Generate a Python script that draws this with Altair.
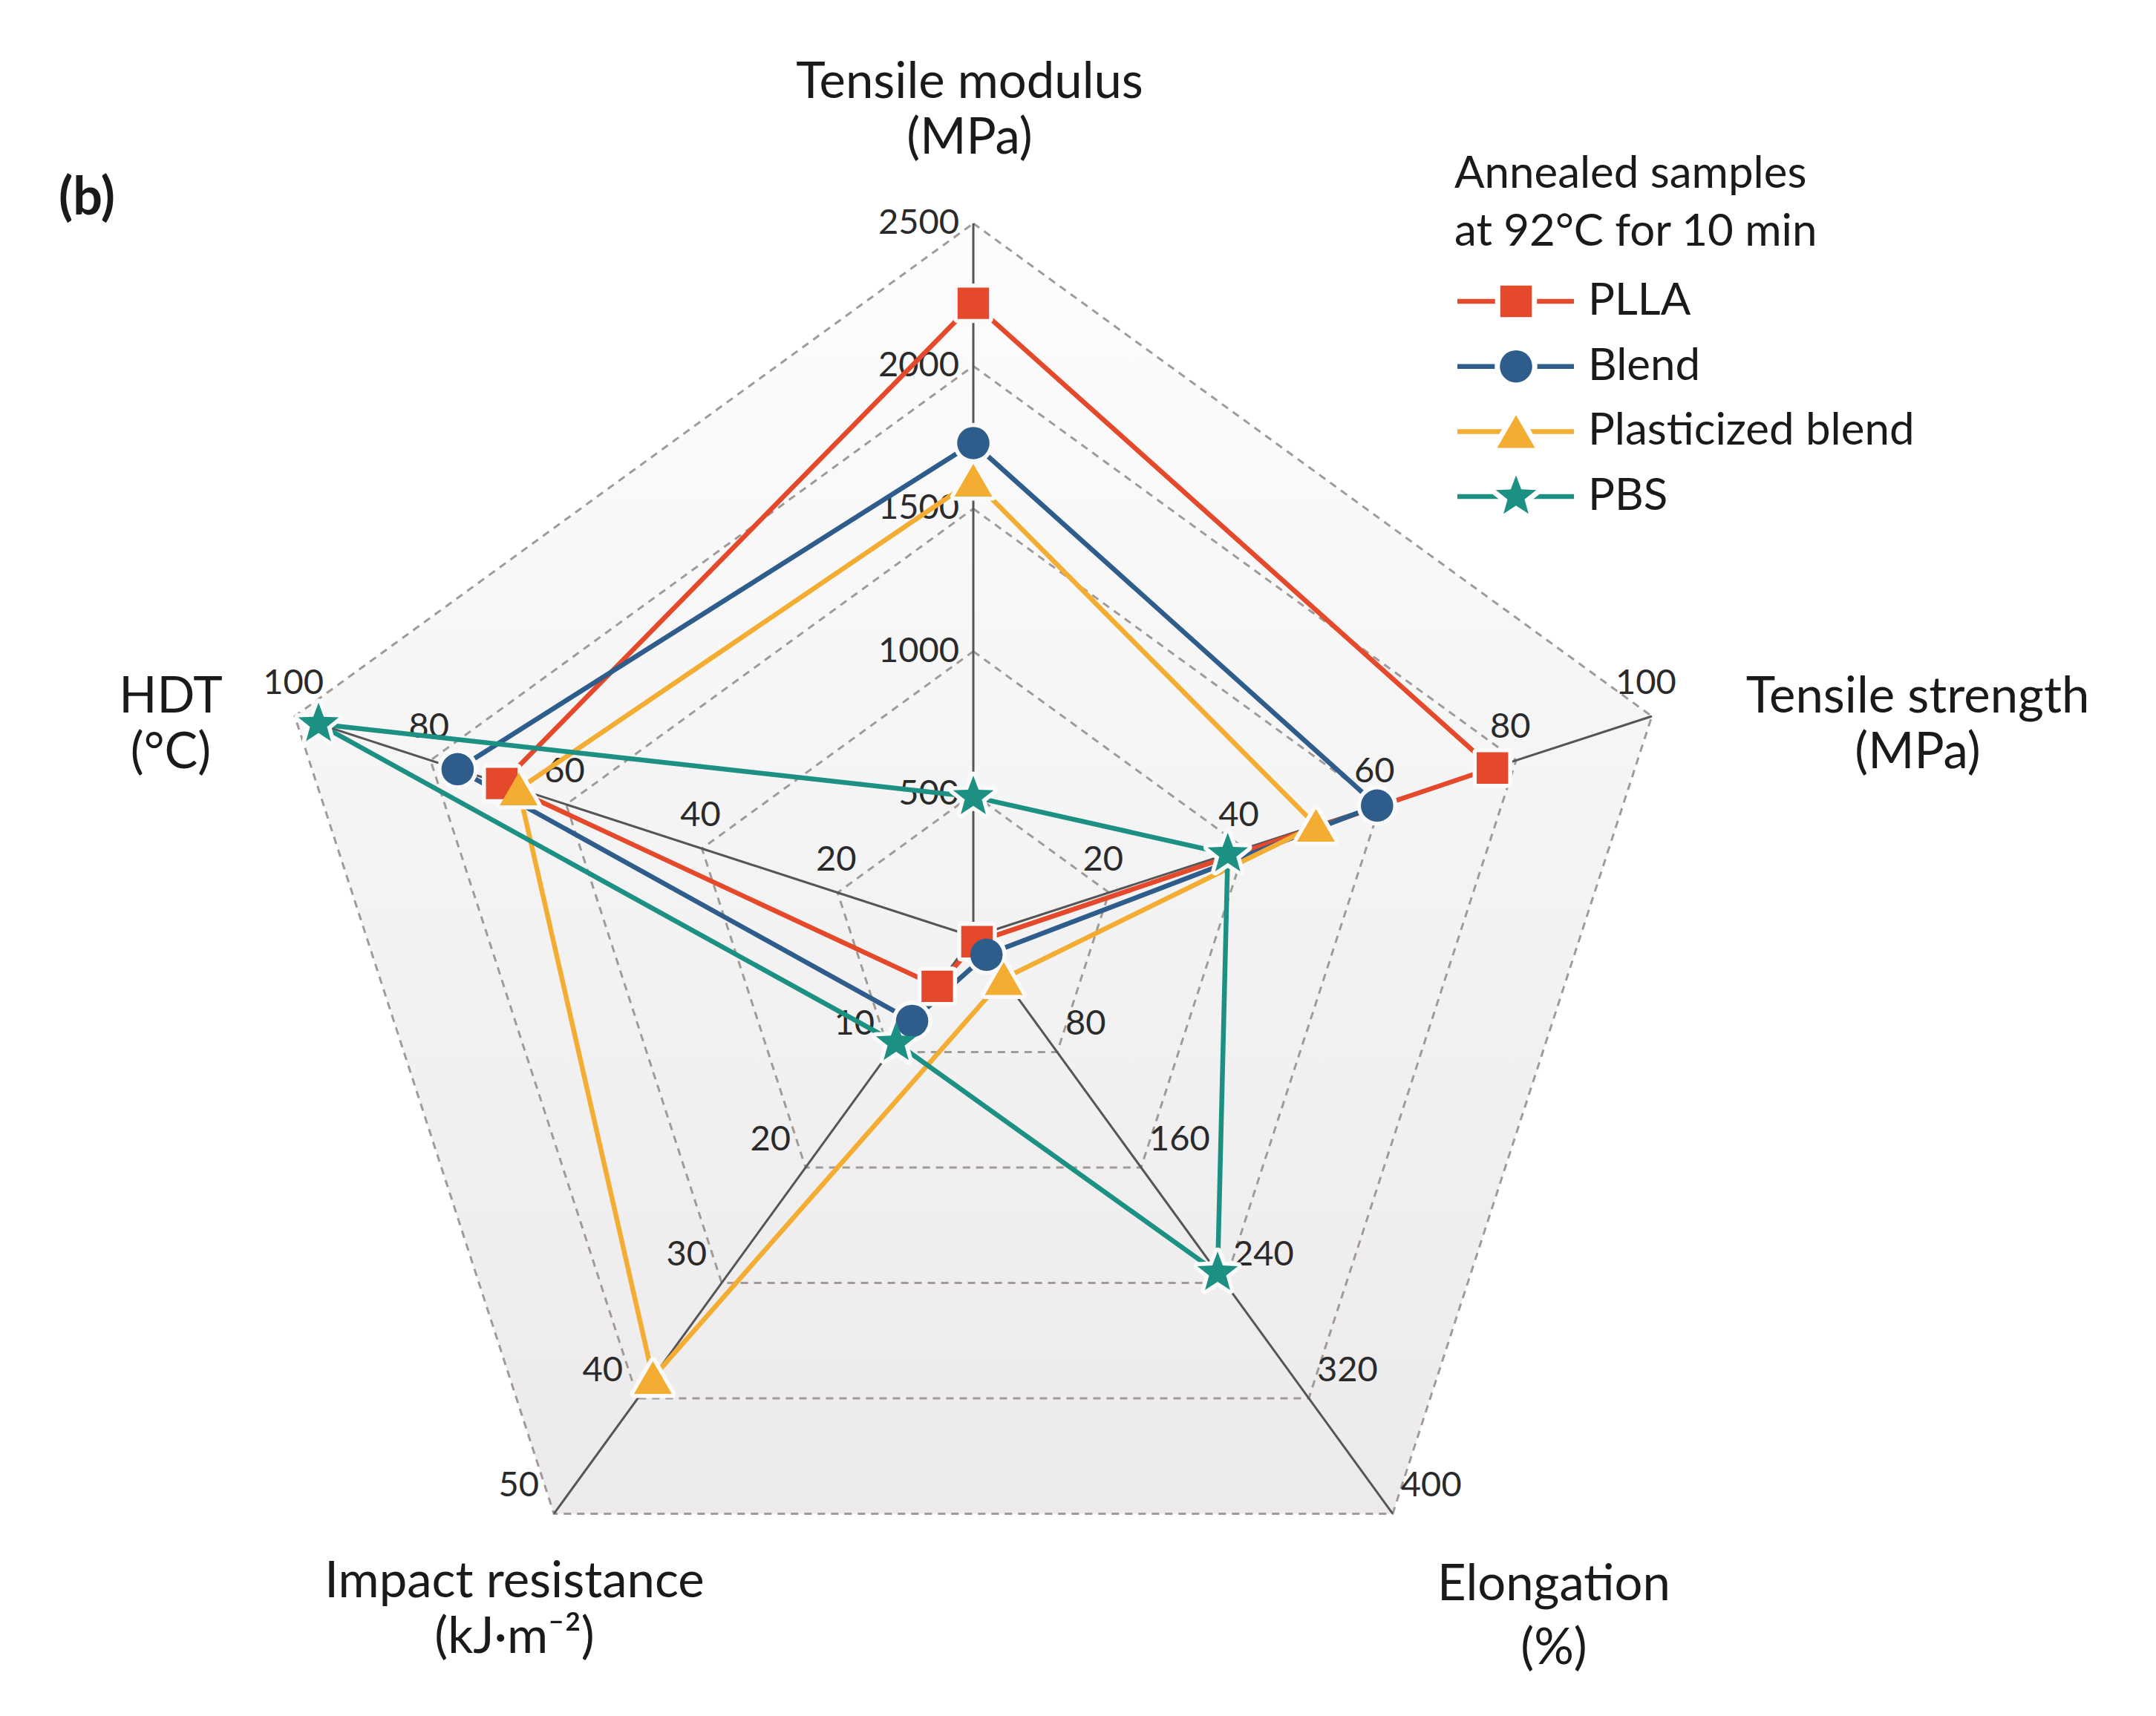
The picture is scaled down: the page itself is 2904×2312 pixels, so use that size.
import math
import pandas as pd
import altair as alt

# ---------------- data ----------------
AXES = ["Tensile modulus", "Tensile strength", "Elongation", "Impact resistance", "HDT"]
AXIS_UNITS = ["(MPa)", "(MPa)", "(%)", "(kJ·m⁻²)", "(°C)"]
AXIS_MAX = [2500, 100, 400, 50, 100]
TICK_VALUES = [
    [500, 1000, 1500, 2000, 2500],
    [20, 40, 60, 80, 100],
    [80, 160, 240, 320, 400],
    [10, 20, 30, 40, 50],
    [20, 40, 60, 80, 100],
]
SERIES = ["PLLA", "Blend", "Plasticized blend", "PBS"]
PLLA = [2220, 76.5, 3.5, 4.3, 69.5]
BLEND = [1730, 59.5, 12.5, 7.3, 76]
PLASTICIZED = [1600, 50.5, 29, 38.2, 67]
PBS = [490, 37.5, 233, 9.2, 96.5]
SERIES_VALUES = [PLLA, BLEND, PLASTICIZED, PBS]
LEGEND_TITLE = ["Annealed samples", "at 92°C for 10 min"]
PANEL_LABEL = "(b)"

# ---------------- style / layout ----------------
COLORS = ["#E5492B", "#2E5D8C", "#F4AD33", "#1C9082"]
STAR = "M" + "L".join(
    f"{(1.0 if j % 2 == 0 else 0.42) * math.cos(-math.pi / 2 + j * math.pi / 5):.4f},"
    f"{(1.0 if j % 2 == 0 else 0.42) * math.sin(-math.pi / 2 + j * math.pi / 5):.4f}"
    for j in range(10)
) + "Z"
SHAPES = ["square", "circle", "triangle-up", STAR]
SIZES = [1800, 1900, 2600, 3300]
FONT = "Lato"
LINE_W = 6.5

W, H = 2880, 2290
CX, CY, R = 1311, 1262, 961     # page pixel centre / radius of the radar
MARGIN = 8
XMIN = -(CX - MARGIN) / R
XMAX = XMIN + W / R
YMAX = (CY - MARGIN) / R
YMIN = YMAX - H / R


def px(X, Y):
    return (X - CX) / R, (CY - Y) / R


N = len(AXES)
ANG = [math.pi / 2 - 2 * math.pi * k / N for k in range(N)]


def polar(k, frac):
    return frac * math.cos(ANG[k]), frac * math.sin(ANG[k])


xs = alt.Scale(domain=[XMIN, XMAX], nice=False, zero=False)
ys = alt.Scale(domain=[YMIN, YMAX], nice=False, zero=False)
X = alt.X("x:Q", scale=xs, axis=None)
Y = alt.Y("y:Q", scale=ys, axis=None)

# background pentagon
bg_rows = []
for i in range(N + 1):
    x, y = polar(i % N, 1.0)
    bg_rows.append({"x": x, "y": y, "o": i})
bg = alt.Chart(pd.DataFrame(bg_rows)).mark_line(
    fill=alt.LinearGradient(
        gradient="linear",
        stops=[alt.GradientStop(color="#FDFDFD", offset=0),
               alt.GradientStop(color="#ECEAEA", offset=1)],
        x1=0, x2=0, y1=0, y2=1),
    strokeOpacity=0,
).encode(x=X, y=Y, order="o:Q")

# grid rings
grid_rows = []
for lv in range(1, 6):
    for i in range(N + 1):
        x, y = polar(i % N, lv / 5)
        grid_rows.append({"x": x, "y": y, "o": i, "lv": lv})
grid = alt.Chart(pd.DataFrame(grid_rows)).mark_line(
    color="#A19B98", strokeWidth=3, strokeDash=[10, 8]
).encode(x=X, y=Y, order="o:Q", detail="lv:N")

# spokes
spoke_rows = []
for k in range(N):
    x2, y2 = polar(k, 1.0)
    spoke_rows.append({"x": 0.0, "y": 0.0, "x2": x2, "y2": y2})
spokes = alt.Chart(pd.DataFrame(spoke_rows)).mark_rule(
    color="#555555", strokeWidth=3
).encode(x=X, y=Y, x2="x2:Q", y2="y2:Q")

# tick labels
LABEL_STYLE = [
    dict(align="right", dx=-19, dy=0, baseline="middle"),
    dict(align="center", dx=-8, dy=-44, baseline="middle"),
    dict(align="left", dx=11, dy=-37, baseline="middle"),
    dict(align="right", dx=-20, dy=-37, baseline="middle"),
    dict(align="center", dx=-2, dy=-44, baseline="middle"),
]
tick_layers = []
for k in range(N):
    rows = []
    for v in TICK_VALUES[k]:
        x, y = polar(k, v / AXIS_MAX[k])
        rows.append({"x": x, "y": y, "t": str(v)})
    tick_layers.append(
        alt.Chart(pd.DataFrame(rows)).mark_text(
            font=FONT, fontSize=47, color="#2A2A2A", **LABEL_STYLE[k]
        ).encode(x=X, y=Y, text="t:N")
    )

# series lines and markers
line_rows, pt_rows = [], []
for s, vals in zip(SERIES, SERIES_VALUES):
    for i in range(N + 1):
        k = i % N
        x, y = polar(k, vals[k] / AXIS_MAX[k])
        line_rows.append({"x": x, "y": y, "o": i, "series": s})
        if i < N:
            pt_rows.append({"x": x, "y": y, "series": s})
line_df = pd.DataFrame(line_rows)
pt_df = pd.DataFrame(pt_rows)
color = alt.Color("series:N", scale=alt.Scale(domain=SERIES, range=COLORS), legend=None)
lines = alt.Chart(line_df).mark_line(strokeWidth=LINE_W).encode(
    x=X, y=Y, order="o:Q", color=color)

halo_layers, marker_layers = [], []
for i, s in enumerate(SERIES):
    d = pt_df[pt_df.series == s]
    halo_layers.append(alt.Chart(d).mark_point(
        shape=SHAPES[i], size=SIZES[i], filled=True, fill="#FAFAFA", stroke="#FAFAFA",
        strokeWidth=11, strokeJoin="round", opacity=1).encode(x=X, y=Y))
    marker_layers.append(alt.Chart(d).mark_point(
        shape=SHAPES[i], size=SIZES[i], filled=True, color=COLORS[i],
        opacity=1).encode(x=X, y=Y))

# axis titles
TITLE_POS = [  # page pixels of the two lines' centres
    ((1306, 112), (1306, 187)),
    ((2583, 940), (2583, 1015)),
    ((2093, 2136), (2093, 2222)),
    ((693, 2132), (693, 2207)),
    ((230, 940), (230, 1015)),
]
title_rows = []
for k in range(N):
    for txt, (PX, PY) in zip([AXES[k], AXIS_UNITS[k]], TITLE_POS[k]):
        x, y = px(PX, PY)
        title_rows.append({"x": x, "y": y, "t": txt})
titles = alt.Chart(pd.DataFrame(title_rows)).mark_text(
    font=FONT, fontSize=67, color="#1A1A1A", align="center", baseline="middle"
).encode(x=X, y=Y, text="t:N")

bx, by = px(117, 268)
panel = alt.Chart(pd.DataFrame([{"x": bx, "y": by, "t": PANEL_LABEL}])).mark_text(
    font=FONT, fontSize=70, fontWeight="bold", color="#1A1A1A", align="center",
    baseline="middle").encode(x=X, y=Y, text="t:N")

# legend
lt_rows = []
for j, txt in enumerate(LEGEND_TITLE):
    x, y = px(1959, 235 + 78 * j)
    lt_rows.append({"x": x, "y": y, "t": txt})
leg_title = alt.Chart(pd.DataFrame(lt_rows)).mark_text(
    font=FONT, fontSize=60, color="#1A1A1A", align="left", baseline="middle"
).encode(x=X, y=Y, text="t:N")

leg_rows = []
for i, s in enumerate(SERIES):
    yy = 406 + 87.7 * i
    x0, y0 = px(1963, yy)
    x1, _ = px(2120, yy)
    xm, _ = px(2042, yy)
    xt, _ = px(2139, yy)
    leg_rows.append({"series": s, "x0": x0, "x1": x1, "xm": xm, "xt": xt, "y": y0})
leg_df = pd.DataFrame(leg_rows)
leg_lines = alt.Chart(leg_df).mark_rule(strokeWidth=LINE_W).encode(
    x=alt.X("x0:Q", scale=xs, axis=None), x2="x1:Q", y=Y, color=color)
leg_text = alt.Chart(leg_df).mark_text(
    font=FONT, fontSize=60, color="#1A1A1A", align="left", baseline="middle"
).encode(x=alt.X("xt:Q", scale=xs, axis=None), y=Y, text="series:N")
leg_marks = []
for i, s in enumerate(SERIES):
    d = leg_df[leg_df.series == s]
    leg_marks.append(alt.Chart(d).mark_point(
        shape=SHAPES[i], size=SIZES[i], filled=True, fill="white", stroke="white",
        strokeWidth=14, strokeJoin="round", opacity=1).encode(
        x=alt.X("xm:Q", scale=xs, axis=None), y=Y))
    leg_marks.append(alt.Chart(d).mark_point(
        shape=SHAPES[i], size=SIZES[i], filled=True, color=COLORS[i], opacity=1).encode(
        x=alt.X("xm:Q", scale=xs, axis=None), y=Y))

chart = alt.layer(
    bg, grid, spokes, *tick_layers, lines, *halo_layers, *marker_layers,
    titles, panel, leg_title, leg_lines, *leg_marks, leg_text
).properties(
    width=W, height=H, padding=0, background="white",
    autosize=alt.AutoSizeParams(type="none"),
).configure_view(strokeWidth=0)

chart.save("out.html", embed_options={"renderer": "svg", "actions": False})
